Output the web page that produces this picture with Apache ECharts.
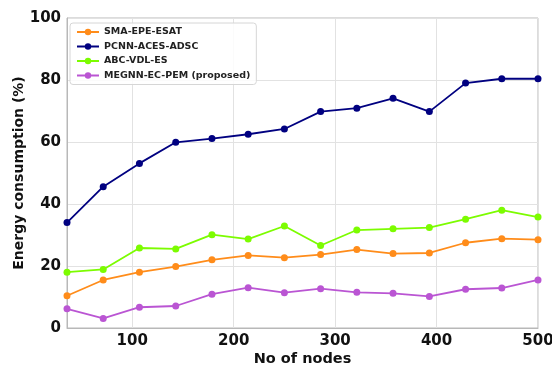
<!DOCTYPE html>
<html>
<head>
<meta charset="utf-8">
<script src="https://cdn.jsdelivr.net/npm/echarts@6/dist/echarts.min.js"></script>
<style>
  html, body { margin: 0; padding: 0; background: #fff; }
  #main { width: 552px; height: 367px; }
</style>
</head>
<body>
<div id="main"></div>
<script>
// node counts: 14 evenly spaced steps up to 500
const nodes = [35.7, 71.4, 107.1, 142.9, 178.6, 214.3, 250, 285.7, 321.4, 357.1, 392.9, 428.6, 464.3, 500]
const smaEpe = [10.4, 15.5, 18.0, 19.8, 22.0, 23.4, 22.7, 23.7, 25.3, 24.0, 24.2, 27.5, 28.8, 28.5]
const pcnnAces = [34.0, 45.6, 53.1, 59.9, 61.1, 62.5, 64.2, 69.8, 70.9, 74.1, 69.8, 79.0, 80.4, 80.4]
const abcVdl = [18.0, 18.9, 25.8, 25.5, 30.1, 28.7, 32.9, 26.6, 31.6, 32.0, 32.4, 35.1, 38.0, 35.8]
const megnn = [6.2, 3.1, 6.7, 7.1, 10.9, 13.0, 11.4, 12.7, 11.5, 11.2, 10.2, 12.5, 12.9, 15.5]

const seriesNames = ['SMA-EPE-ESAT', 'PCNN-ACES-ADSC', 'ABC-VDL-ES', 'MEGNN-EC-PEM (proposed)']
const seriesColors = ['#ff8c1a', '#000080', '#7cfc00', '#ba55d3']
const seriesData = [smaEpe, pcnnAces, abcVdl, megnn]

const font = 'DejaVu Sans'

let chart = echarts.init(document.getElementById('main'))
chart.setOption({
    animation: false,
    textStyle: { fontFamily: font },
    grid: {
        left: 67, right: 14, top: 18, bottom: 39,
        containLabel: false,
        outerBoundsMode: 'none',
        show: true, borderColor: '#b8b8b8', borderWidth: 1
    },
    legend: {
        orient: 'vertical',
        left: 70, top: 23,
        itemWidth: 22, itemHeight: 8, itemGap: 4.5,
        padding: [4, 6, 4, 6],
        borderColor: '#d6d6d6', borderWidth: 1, borderRadius: 3,
        backgroundColor: 'rgba(255,255,255,0.85)',
        textStyle: { fontSize: 9.5, fontWeight: 'bold', color: '#222', fontFamily: font },
        data: seriesNames
    },
    xAxis: {
        type: 'value',
        min: nodes[0], max: 500,
        splitNumber: 5,
        name: 'No of nodes',
        nameLocation: 'middle',
        nameGap: 24,
        nameMoveOverlap: false,
        nameTextStyle: { fontSize: 14.5, fontWeight: 'bold', color: '#111', fontFamily: font },
        axisLine: { lineStyle: { color: '#b8b8b8' } },
        axisTick: { show: false },
        axisLabel: { showMinLabel: false, margin: 6, fontSize: 15, fontWeight: 'bold', color: '#111', fontFamily: font },
        splitLine: { lineStyle: { color: '#e2e2e2' } }
    },
    yAxis: {
        type: 'value',
        min: 0, max: 100, interval: 20,
        name: 'Energy consumption (%)',
        nameLocation: 'middle',
        nameGap: 41,
        nameMoveOverlap: false,
        nameTextStyle: { fontSize: 14, fontWeight: 'bold', color: '#111', fontFamily: font },
        axisLine: { show: true, lineStyle: { color: '#b8b8b8' } },
        axisTick: { show: false },
        axisLabel: { margin: 6, fontSize: 15, fontWeight: 'bold', color: '#111', fontFamily: font },
        splitLine: { lineStyle: { color: '#e2e2e2' } }
    },
    series: seriesNames.map((name, i) => {
        return {
            name: name,
            type: 'line',
            data: nodes.map((x, j) => [x, seriesData[i][j]]),
            symbol: 'circle',
            symbolSize: 7,
            color: seriesColors[i],
            lineStyle: { width: 1.8 },
            clip: false
        }
    })
})
</script>
</body>
</html>
